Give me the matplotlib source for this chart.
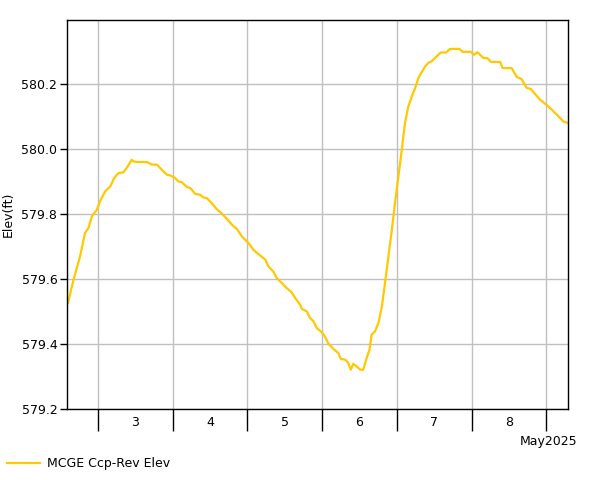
import pandas as pd
import matplotlib
matplotlib.use('Agg')
import matplotlib.pyplot as plt
import matplotlib.dates as mdates
from matplotlib.ticker import NullFormatter

# Data: hours since 2025-05-03 00:00 and elevation (ft)
hours = [-9.7, -7.9, -5.8, -4.2, -3.1, -2.0, -0.4, 0.6, 2.3, 3.9,
         5.2, 6.5, 8.1, 9.2, 10.8, 11.3, 12.4, 15.7, 17.3, 18.9,
         20.5, 22.1, 23.1, 24.7, 25.8, 26.9, 28.5, 29.6, 31.2, 32.8,
         33.8, 34.9, 36.0, 38.1, 39.8, 41.4, 43.0, 44.6, 46.2, 48.3,
         49.9, 52.1, 53.7, 54.7, 56.3, 57.4, 59.0, 60.6, 62.2, 63.3,
         64.9, 65.5, 67.1, 68.1, 69.2, 70.3, 71.9, 72.9, 74.0, 75.6,
         77.2, 78.0, 79.4, 80.4, 81.2, 82.0, 83.1, 84.2, 85.2, 86.3,
         87.2, 87.9, 89.0, 90.1, 91.2, 92.2, 93.3, 94.4, 95.4, 96.5,
         97.6, 98.6, 99.7, 100.8, 101.9, 102.9, 103.5, 105.1, 106.1, 107.2,
         108.8, 110.1, 111.8, 113.1, 116.1, 117.2, 119.8, 120.8, 121.9, 123.8,
         125.1, 126.2, 129.2, 130.0, 132.9, 134.5, 136.1, 137.7, 139.0, 142.0,
         144.7, 147.4, 149.5, 151.0]
elev = [579.526, 579.598, 579.670, 579.742, 579.757, 579.793, 579.813, 579.839, 579.870, 579.885,
        579.911, 579.926, 579.928, 579.942, 579.967, 579.962, 579.960, 579.960, 579.952, 579.952,
        579.936, 579.921, 579.919, 579.911, 579.900, 579.898, 579.883, 579.880, 579.862, 579.859,
        579.851, 579.849, 579.839, 579.815, 579.801, 579.785, 579.767, 579.754, 579.731, 579.711,
        579.690, 579.672, 579.660, 579.639, 579.623, 579.603, 579.588, 579.572, 579.559, 579.542,
        579.521, 579.508, 579.500, 579.480, 579.470, 579.449, 579.436, 579.423, 579.401, 579.385,
        579.372, 579.354, 579.352, 579.342, 579.321, 579.339, 579.331, 579.321, 579.321, 579.357,
        579.382, 579.429, 579.439, 579.465, 579.516, 579.588, 579.670, 579.752, 579.834, 579.916,
        579.998, 580.080, 580.131, 580.162, 580.188, 580.218, 580.229, 580.254, 580.265, 580.270,
        580.285, 580.297, 580.297, 580.308, 580.308, 580.299, 580.299, 580.290, 580.298, 580.280,
        580.280, 580.268, 580.268, 580.249, 580.249, 580.222, 580.215, 580.188, 580.185, 580.152,
        580.131, 580.106, 580.085, 580.080]
series_label = 'MCGE Ccp-Rev Elev'
y_ticks = [579.2, 579.4, 579.6, 579.8, 580.0, 580.2]

base = pd.Timestamp('2025-05-03')
times = [base + pd.Timedelta(hours=h) for h in hours]

fig = plt.figure(figsize=(6.01, 4.80), dpi=100)
ax = fig.add_axes([67 / 601, 71 / 480, 501 / 601, 389 / 480])

line, = ax.plot(times, elev, color='#ffc800', lw=1.6)

ax.set_xlim(pd.Timestamp('2025-05-02 14:00'), pd.Timestamp('2025-05-09 07:00'))
ax.set_ylim(579.2, 580.397)

# y axis
ax.set_yticks(y_ticks)
ax.set_yticklabels([f'{v:.1f}' for v in y_ticks])
ax.tick_params(axis='y', length=5, width=1, labelsize=9, pad=2)
ax.set_ylabel('Elev(ft)', fontsize=9)
ax.yaxis.set_label_coords(-0.104, 0.5)

# x axis: major ticks at midnight, labels at noon
ax.xaxis.set_major_locator(mdates.DayLocator())
ax.xaxis.set_major_formatter(NullFormatter())
ax.xaxis.set_minor_locator(mdates.HourLocator(byhour=[12]))
ax.xaxis.set_minor_formatter(mdates.DateFormatter('%-d'))
ax.tick_params(axis='x', which='major', length=16, width=1)
ax.tick_params(axis='x', which='minor', length=0, labelsize=9, pad=5)

ax.grid(True, which='major', color='#c0c0c0', lw=1)
for s in ax.spines.values():
    s.set_color('black')
    s.set_linewidth(1)

fig.text(577 / 601, 1 - 441 / 480, 'May2025', ha='right', va='center', fontsize=9)

fig.legend(handles=[line], labels=[series_label], loc='center left',
           bbox_to_anchor=(7 / 601, 1 - 464 / 480), frameon=False, fontsize=9,
           handlelength=2.65, handletextpad=0.55, borderpad=0, borderaxespad=0)

fig.savefig('out.png', dpi=100)
